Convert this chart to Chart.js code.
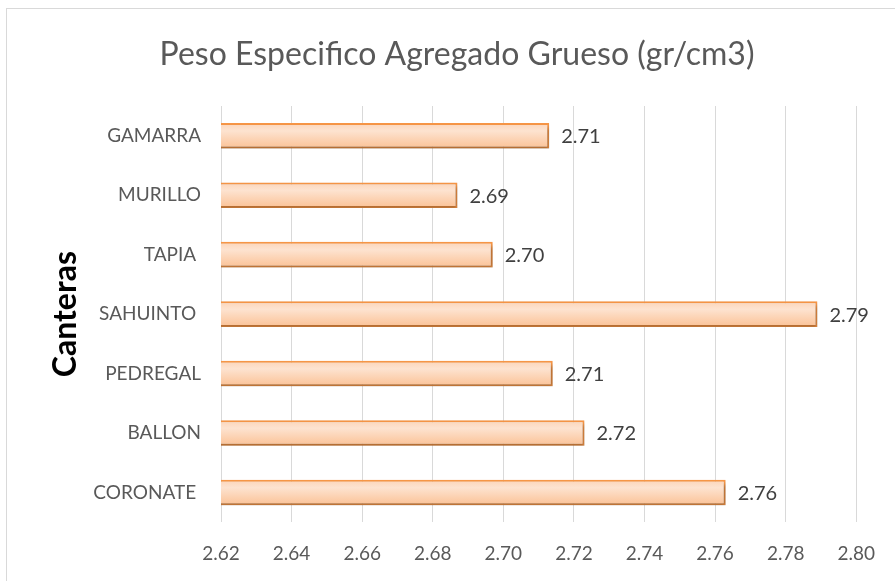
<!DOCTYPE html>
<html><head><meta charset="utf-8">
<script src="https://cdn.jsdelivr.net/npm/chart.js@4"></script>
<style>html,body{margin:0;padding:0;background:#fff}#wrap{width:895px;height:581px}</style>
</head><body><div id="wrap"><canvas id="c" width="895" height="581"></canvas></div>
<script>
const categories = ["GAMARRA", "MURILLO", "TAPIA ", "SAHUINTO ", "PEDREGAL", "BALLON", "CORONATE "];
const values = [2.713, 2.687, 2.697, 2.789, 2.714, 2.723, 2.763];
const valueLabels = ["2.71", "2.69", "2.70", "2.79", "2.71", "2.72", "2.76"];
const xTicks = [2.62, 2.64, 2.66, 2.68, 2.70, 2.72, 2.74, 2.76, 2.78, 2.80];
const titleText = "Peso Especifico Agregado Grueso (gr/cm3)";
const yTitle = "Canteras";

const FONT = "Lato, 'Open Sans', sans-serif";

const framePlugin = {
  id: 'frame',
  beforeDraw(chart) {
    const ctx = chart.ctx;
    ctx.save();
    ctx.fillStyle = '#fff';
    ctx.fillRect(0, 0, chart.width, chart.height);
    ctx.strokeStyle = '#d9d9d9';
    ctx.lineWidth = 1;
    ctx.strokeRect(6.5, 8.5, chart.width, chart.height);
    ctx.font = "32px " + FONT;
    ctx.fillStyle = '#595959';
    ctx.textAlign = 'center';
    ctx.textBaseline = 'middle';
    ctx.fillText(titleText, 457, 55);
    ctx.restore();
  }
};
const shadowPlugin = {
  id: 'shadow',
  beforeDatasetsDraw(chart) {
    const ctx = chart.ctx;
    ctx.save();
    ctx.shadowColor = 'rgba(0,0,0,0.3)';
    ctx.shadowBlur = 4;
    ctx.shadowOffsetX = 2;
    ctx.shadowOffsetY = 3;
  },
  afterDatasetsDraw(chart) {
    chart.ctx.restore();
    const ctx = chart.ctx;
    const meta = chart.getDatasetMeta(0);
    ctx.save();
    ctx.font = "20px " + FONT;
    ctx.fillStyle = '#404040';
    ctx.textAlign = 'left';
    ctx.textBaseline = 'middle';
    meta.data.forEach((bar, i) => {
      ctx.fillText(valueLabels[i], bar.x + 12, bar.y + 1);
    });
    ctx.restore();
  }
};

new Chart(document.getElementById('c'), {
  type: 'bar',
  data: {
    labels: categories,
    datasets: [{
      data: values,
      backgroundColor(context) {
        const chart = context.chart;
        const ys = chart.scales && chart.scales.y;
        if (!ys || context.dataIndex === undefined) return '#fcd5b5';
        const cy = ys.getPixelForValue(context.dataIndex);
        if (!isFinite(cy)) return '#fcd5b5';
        const g = chart.ctx.createLinearGradient(0, cy - 12, 0, cy + 12);
        g.addColorStop(0, '#fcd6bb');
        g.addColorStop(0.3, '#fde3d0');
        g.addColorStop(1, '#fbc398');
        return g;
      },
      borderColor: '#f79646',
      borderWidth: 2,
      borderSkipped: false,
      barPercentage: 0.86,
      categoryPercentage: 0.5
    }]
  },
  options: {
    indexAxis: 'y',
    responsive: false,
    animation: false,
    devicePixelRatio: 1,
    layout: { padding: { left: 0, right: 37, top: 106, bottom: -4 } },
    plugins: {
      legend: { display: false },
      tooltip: { enabled: false },
      title: { display: false }
    },
    scales: {
      x: {
        min: 2.62, max: 2.80,
        afterBuildTicks(scale) { scale.ticks = xTicks.map(v => ({ value: v })); },
        ticks: {
          color: '#595959',
          font: { family: FONT, size: 19 },
          padding: 20,
          callback: v => Number(v).toFixed(2)
        },
        grid: { color: '#d9d9d9', drawTicks: false },
        border: { display: false }
      },
      y: {
        afterFit(scale) { scale.width = 221; },
        ticks: {
          color: '#595959',
          font: { family: FONT, size: 19 },
          padding: 12
        },
        grid: { display: false },
        border: { display: false },
        title: {
          display: true,
          text: yTitle,
          color: '#000',
          font: { family: FONT, size: 32, weight: 'bold' },
          padding: { top: 46, bottom: 0 }
        }
      }
    }
  },
  plugins: [framePlugin, shadowPlugin]
});
</script>
</body></html>
